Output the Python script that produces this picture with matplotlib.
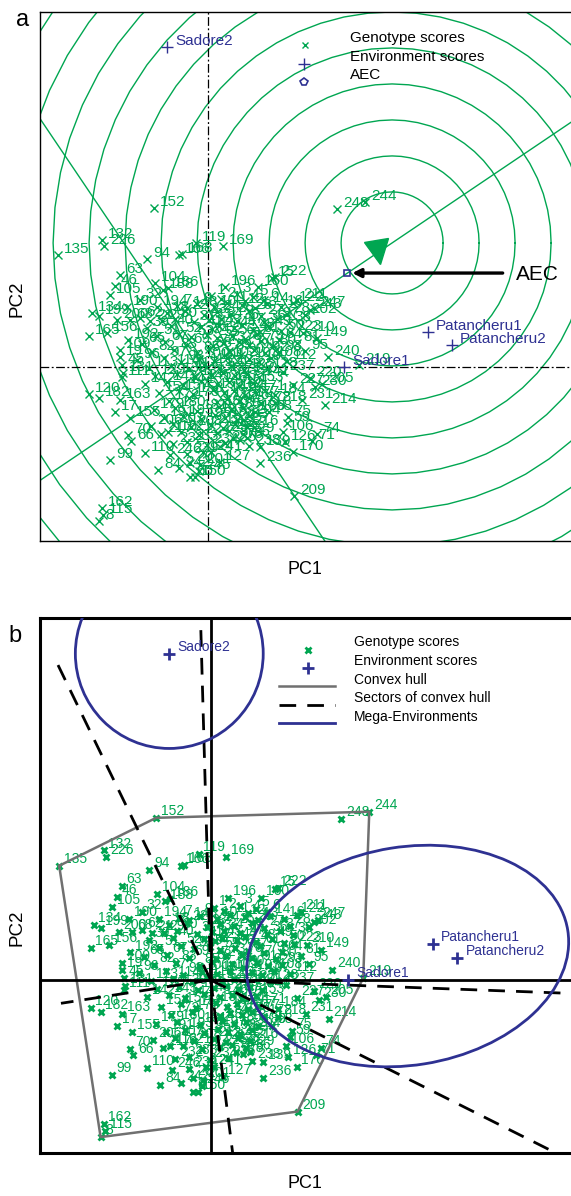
import numpy as np
import matplotlib
matplotlib.use('Agg')
import matplotlib.pyplot as plt
from matplotlib.patches import Ellipse, Circle
from matplotlib.markers import MarkerStyle
from matplotlib.transforms import Affine2D

plt.rcParams['font.family'] = ['Liberation Sans', 'DejaVu Sans']

GREEN = '#00a651'
BLUE = '#2e3192'
GREY = '#707070'

geno_labels = ['152', '132', '226', '135', '94', '166', '168', '119', '169', '63',
               '46', '105', '104', '188', '186', '32', '134', '190', '194', '148',
               '199', '200', '68', '21', '62', '165', '156', '192', '109', '19',
               '45', '131', '120', '111', '182', '163', '17', '155', '70', '66',
               '99', '110', '84', '116', '246', '124', '127', '236', '170', '71',
               '74', '126', '59', '106', '75', '139', '87', '86', '78', '209',
               '162', '8', '115', '60', '150', '201', '20', '214', '231', '218',
               '184', '58', '220', '227', '230', '205', '237', '219', '240', '223',
               '210', '149', '202', '211', '122', '243', '247', '222', '15', '196',
               '160', '248', '244']
geno_pc1 = [-0.54, -1.06, -1.04, -1.50, -0.61, -0.29, -0.26, -0.12, 0.15, -0.88,
            -0.93, -0.98, -0.53, -0.45, -0.40, -0.68, -1.16, -0.81, -0.51, -0.21,
            -1.09, -0.91, -0.78, -0.58, -0.68, -1.19, -1.01, -0.80, -0.88, -0.88,
            -0.86, -0.85, -1.19, -0.86, -1.09, -0.88, -0.93, -0.78, -0.80, -0.77,
            -0.98, -0.63, -0.50, -0.40, -0.38, -0.05, 0.12, 0.52, 0.85, 1.04,
            1.09, 0.77, 0.79, 0.75, 0.80, 0.52, 0.25, 0.39, 0.32, 0.86,
            -1.06, -1.09, -1.05, -0.18, -0.13, -0.08, -0.18, 1.17, 0.94, 0.67,
            0.67, 0.61, 1.02, 0.85, 1.07, 1.14, 0.75, 1.51, 1.20, 0.82,
            0.95, 1.09, 0.97, 0.89, 0.85, 1.02, 1.06, 0.67, 0.64, 0.17,
            0.50, 1.29, 1.57]
geno_pc2 = [1.59, 1.27, 1.21, 1.12, 1.08, 1.12, 1.13, 1.24, 1.21, 0.92,
            0.81, 0.72, 0.84, 0.77, 0.79, 0.67, 0.54, 0.60, 0.60, 0.59,
            0.51, 0.47, 0.47, 0.46, 0.49, 0.31, 0.34, 0.27, 0.17, 0.10,
            0.02, -0.06, -0.27, -0.10, -0.31, -0.33, -0.45, -0.51, -0.68, -0.74,
            -0.93, -0.86, -1.03, -0.65, -0.88, -0.85, -0.95, -0.96, -0.85, -0.74,
            -0.67, -0.75, -0.56, -0.65, -0.50, -0.80, -0.71, -0.71, -0.73, -1.29,
            -1.41, -1.54, -1.48, -1.10, -1.10, -0.98, -0.96, -0.38, -0.33, -0.36,
            -0.28, -0.45, -0.11, -0.18, -0.20, -0.17, -0.05, 0.02, 0.10, 0.35,
            0.34, 0.29, 0.52, 0.67, 0.64, 0.57, 0.59, 0.90, 0.89, 0.80,
            0.80, 1.58, 1.65]

# genotypes of the dense centre (estimated positions)
core_pc1 = [0.03, 0.13, 0.29, 0.37, 0.45, 0.56,
            -0.31, -0.11, 0.06, 0.19, 0.34, 0.47, 0.59, 0.73,
            -0.41, -0.23, -0.04, 0.09, 0.23, 0.41, 0.53, 0.79,
            -0.46, -0.33, -0.14, 0.01, 0.13, 0.29, 0.56, 0.69, 0.81,
            -0.61, -0.37, -0.07, 0.04, 0.11, 0.26, 0.34, 0.45, 0.61, 0.73,
            -0.51, -0.29, -0.17, -0.01, 0.09, 0.24, 0.37, 0.49, 0.71,
            -0.66, -0.43, -0.21, 0.05, 0.15, 0.31, 0.41, 0.53, 0.65, 0.89,
            -0.56, -0.34, -0.11, 0.01, 0.21, 0.33, 0.46, 0.57, 0.71, 0.97,
            -0.71, -0.44, -0.27, -0.09, 0.06, 0.19, 0.41, 0.51, 0.63, 0.79,
            -0.59, -0.37, -0.19, -0.04, 0.11, 0.23, 0.36, 0.59,
            -0.53, -0.31, -0.13, 0.03, 0.15, 0.27, 0.39, 0.51,
            -0.63, -0.41, -0.25, -0.07, 0.09, 0.21, 0.31, 0.45,
            -0.49, -0.29, -0.15, 0.05, 0.16, 0.26, 0.37, 0.47,
            -0.39, -0.19, 0.09, 0.19, 0.31, 0.41, 0.53,
            -0.54, -0.33, -0.11, 0.11, 0.23, 0.35, 0.47,
            -0.44, -0.25, -0.07, 0.07, 0.17, 0.29, 0.41,
            -0.57, -0.35, -0.17, 0.03, 0.15, 0.27, 0.39,
            -0.47, -0.27, -0.09, 0.09, 0.21, 0.35,
            -0.35, -0.21, -0.01, 0.17, 0.41,
            -0.21, 0.03,
            -0.29, -0.09]
core_pc2 = [0.71, 0.68, 0.73, 0.66, 0.70, 0.67,
            0.61, 0.63, 0.60, 0.64, 0.62, 0.59, 0.63, 0.60,
            0.54, 0.56, 0.52, 0.55, 0.53, 0.56, 0.51, 0.53,
            0.46, 0.48, 0.45, 0.47, 0.48, 0.46, 0.45, 0.48, 0.44,
            0.39, 0.41, 0.40, 0.38, 0.41, 0.39, 0.42, 0.37, 0.40, 0.36,
            0.31, 0.33, 0.30, 0.32, 0.29, 0.31, 0.28, 0.33, 0.27,
            0.23, 0.25, 0.22, 0.21, 0.24, 0.25, 0.22, 0.26, 0.21, 0.24,
            0.15, 0.17, 0.14, 0.18, 0.16, 0.12, 0.17, 0.14, 0.15, 0.16,
            0.07, 0.09, 0.05, 0.08, 0.06, 0.09, 0.08, 0.05, 0.09, 0.06,
            -0.01, 0.01, -0.02, 0.02, -0.01, 0.01, -0.03, -0.02,
            -0.09, -0.07, -0.10, -0.08, -0.06, -0.09, -0.07, -0.10,
            -0.17, -0.15, -0.18, -0.14, -0.17, -0.15, -0.19, -0.16,
            -0.26, -0.24, -0.27, -0.23, -0.26, -0.24, -0.28, -0.25,
            -0.34, -0.31, -0.35, -0.32, -0.34, -0.31, -0.36,
            -0.43, -0.41, -0.44, -0.40, -0.43, -0.41, -0.45,
            -0.51, -0.49, -0.52, -0.48, -0.51, -0.53, -0.49,
            -0.59, -0.57, -0.60, -0.58, -0.61, -0.57, -0.60,
            -0.67, -0.65, -0.68, -0.66, -0.64, -0.67,
            -0.77, -0.75, -0.78, -0.76, -0.79,
            -0.87, -0.85,
            -1.01, -1.04]
core_labels = [str(n) for n in range(1, 249) if str(n) not in geno_labels]

env_labels = ['Sadore2', 'Patancheru1', 'Patancheru2', 'Sadore1']
env_pc1 = [-0.41, 2.20, 2.44, 1.36]
env_pc2 = [3.20, 0.35, 0.22, 0.00]

labels = geno_labels + core_labels
pc1 = np.array(geno_pc1 + core_pc1)
pc2 = np.array(geno_pc2 + core_pc2)
n_g = min(len(labels), len(pc1))
labels, pc1, pc2 = labels[:n_g], pc1[:n_g], pc2[:n_g]


def convex_hull(idx):
    pts = sorted(idx, key=lambda i: (pc1[i], pc2[i]))

    def cross(o, a, b):
        return (pc1[a] - pc1[o]) * (pc2[b] - pc2[o]) - (pc2[a] - pc2[o]) * (pc1[b] - pc1[o])
    lower = []
    for p in pts:
        while len(lower) >= 2 and cross(lower[-2], lower[-1], p) <= 0:
            lower.pop()
        lower.append(p)
    upper = []
    for p in reversed(pts):
        while len(upper) >= 2 and cross(upper[-2], upper[-1], p) <= 0:
            upper.pop()
        upper.append(p)
    return lower[:-1] + upper[:-1]


fig = plt.figure(figsize=(5.71, 11.96), dpi=100)

"""
Panel a: ranking genotypes relative to the ideal genotype
"""
ax = fig.add_axes([40 / 571, 1 - 541 / 1196, 533 / 571, 529 / 1196])
ax.set_xlim(-1.677, 3.653)
ax.set_ylim(-1.737, 3.553)
for s in ax.spines.values():
    s.set_linewidth(1.0)
ax.set_xticks([])
ax.set_yticks([])

mean_env = np.array([np.mean(env_pc1), np.mean(env_pc2)])
u = mean_env / np.linalg.norm(mean_env)
proj = pc1 * u[0] + pc2 * u[1]
ideal = u * proj.max()

phi = np.linspace(0, 2 * np.pi, 61)
for k in range(15):
    r = 0.51 + 0.36 * k
    ax.plot(ideal[0] + r * np.cos(phi), ideal[1] + r * np.sin(phi), color=GREEN, lw=1.0, zorder=1)
t = np.array([-10, 10])
ax.plot(t * u[0], t * u[1], color=GREEN, lw=1.0, zorder=1)
ax.plot(-t * u[1], t * u[0], color=GREEN, lw=1.0, zorder=1)
ax.axhline(0, color='black', lw=0.9, ls=(0, (7, 2, 1.5, 2)), zorder=2)
ax.axvline(0, color='black', lw=0.9, ls=(0, (7, 2, 1.5, 2)), zorder=2)

ax.plot(pc1, pc2, 'x', color=GREEN, ms=5.5, mew=1.0, zorder=3)
for lab, x, y in zip(labels, pc1, pc2):
    ax.annotate(lab, (x, y), xytext=(4.5, 4.5), textcoords='offset points', fontsize=11,
                color=GREEN, va='center', ha='left', zorder=3)
ax.plot(env_pc1, env_pc2, '+', color=BLUE, ms=9, mew=1.0, zorder=4)
for lab, x, y in zip(env_labels, env_pc1, env_pc2):
    ax.annotate(lab, (x, y), xytext=(6, 4.5), textcoords='offset points', fontsize=11,
                color=BLUE, va='center', ha='left', zorder=4)

tri = MarkerStyle('v', transform=Affine2D().rotate_deg(10))
head = ideal * 0.925
ax.plot(head[0], head[1], marker=tri, color=GREEN, ms=17, zorder=4)
ax.plot(mean_env[0], mean_env[1], 's', mfc='none', mec=BLUE, ms=5, mew=1.2, zorder=5)
ax.annotate('', xy=(mean_env[0] + 0.02, mean_env[1]), xytext=(mean_env[0] + 1.58, mean_env[1]),
            arrowprops=dict(arrowstyle='-|>,head_length=0.5,head_width=0.25', color='black', lw=2.4),
            zorder=6)
ax.text(mean_env[0] + 1.69, mean_env[1] - 0.01, 'AEC', fontsize=15, va='center', ha='left', zorder=6)

ax.plot(0.497, 0.938, 'x', color=GREEN, ms=5, mew=1.0, transform=ax.transAxes)
ax.plot(0.495, 0.902, '+', color=BLUE, ms=9, mew=1.0, transform=ax.transAxes)
ax.plot(0.496, 0.868, 'p', mfc='none', mec=BLUE, ms=6, mew=1.2, transform=ax.transAxes)
for yy, txt in zip([0.951, 0.915, 0.881], ['Genotype scores', 'Environment scores', 'AEC']):
    ax.text(0.582, yy, txt, fontsize=11, va='center', ha='left', transform=ax.transAxes)

"""
Panel b: which-won-where with mega-environments
"""
bx = fig.add_axes([40 / 571, 1 - 1153 / 1196, 533 / 571, 535 / 1196])
bx.set_xlim(-1.690, 3.587)
bx.set_ylim(-1.696, 3.549)
for s in bx.spines.values():
    s.set_linewidth(2.2)
bx.set_xticks([])
bx.set_yticks([])

bx.plot(pc1, pc2, 'x', color=GREEN, ms=5, mew=2.0, zorder=3)
for lab, x, y in zip(labels, pc1, pc2):
    bx.annotate(lab, (x, y), xytext=(3.5, 5), textcoords='offset points', fontsize=10,
                color=GREEN, va='center', ha='left', zorder=3)

hull = convex_hull(list(range(n_g)))
hx = [pc1[i] for i in hull] + [pc1[hull[0]]]
hy = [pc2[i] for i in hull] + [pc2[hull[0]]]
bx.plot(hx, hy, color=GREY, lw=1.8, zorder=4)

ray_len = {('135', '8'): 1.5, ('152', '135'): 3.5}
for a, b in zip(hull, hull[1:] + hull[:1]):
    dx, dy = pc1[b] - pc1[a], pc2[b] - pc2[a]
    nrm = np.array([dy, -dx]) / np.hypot(dx, dy)
    L = ray_len.get((labels[a], labels[b]), 6.0)
    bx.plot([0, L * nrm[0]], [0, L * nrm[1]], color='black', lw=2.0, dashes=(6, 4), zorder=5)

bx.axhline(0, color='black', lw=2.0, zorder=6)
bx.axvline(0, color='black', lw=2.0, zorder=6)

bx.add_patch(Circle((env_pc1[0], env_pc2[0]), 0.93, fill=False, ec=BLUE, lw=2.0, zorder=6))
bx.add_patch(Ellipse((1.95, 0.235), 3.21, 2.14, angle=9, fill=False, ec=BLUE, lw=2.0, zorder=6))

bx.plot(env_pc1, env_pc2, '+', color=BLUE, ms=9, mew=2.0, zorder=7)
for lab, x, y in zip(env_labels, env_pc1, env_pc2):
    bx.annotate(lab, (x, y), xytext=(6, 5), textcoords='offset points', fontsize=10,
                color=BLUE, va='center', ha='left', zorder=7)

bx.plot(0.503, 0.940, 'x', color=GREEN, ms=5, mew=2.0, transform=bx.transAxes)
bx.plot(0.503, 0.907, '+', color=BLUE, ms=9, mew=2.0, transform=bx.transAxes)
bx.plot([0.448, 0.554], [0.873, 0.873], color=GREY, lw=1.8, transform=bx.transAxes)
bx.plot([0.448, 0.554], [0.837, 0.837], color='black', lw=2.0, dashes=(6, 4), transform=bx.transAxes)
bx.plot([0.448, 0.554], [0.804, 0.804], color=BLUE, lw=2.0, transform=bx.transAxes)
for yy, txt in zip([0.955, 0.920, 0.884, 0.850, 0.815],
                   ['Genotype scores', 'Environment scores', 'Convex hull',
                    'Sectors of convex hull', 'Mega-Environments']):
    bx.text(0.589, yy, txt, fontsize=10, va='center', ha='left', transform=bx.transAxes)

fig.text(22.7 / 571, 1 - 20 / 1196, 'a', fontsize=17, ha='center', va='center')
fig.text(15.5 / 571, 1 - 636 / 1196, 'b', fontsize=17, ha='center', va='center')
fig.text(17.3 / 571, 1 - 299 / 1196, 'PC2', fontsize=13.5, rotation=90, ha='center', va='center')
fig.text(17.3 / 571, 1 - 928 / 1196, 'PC2', fontsize=13.5, rotation=90, ha='center', va='center')
fig.text(305 / 571, 1 - 570 / 1196, 'PC1', fontsize=13, ha='center', va='center')
fig.text(305 / 571, 1 - 1184 / 1196, 'PC1', fontsize=13, ha='center', va='center')

fig.savefig('out.png', dpi=100)
